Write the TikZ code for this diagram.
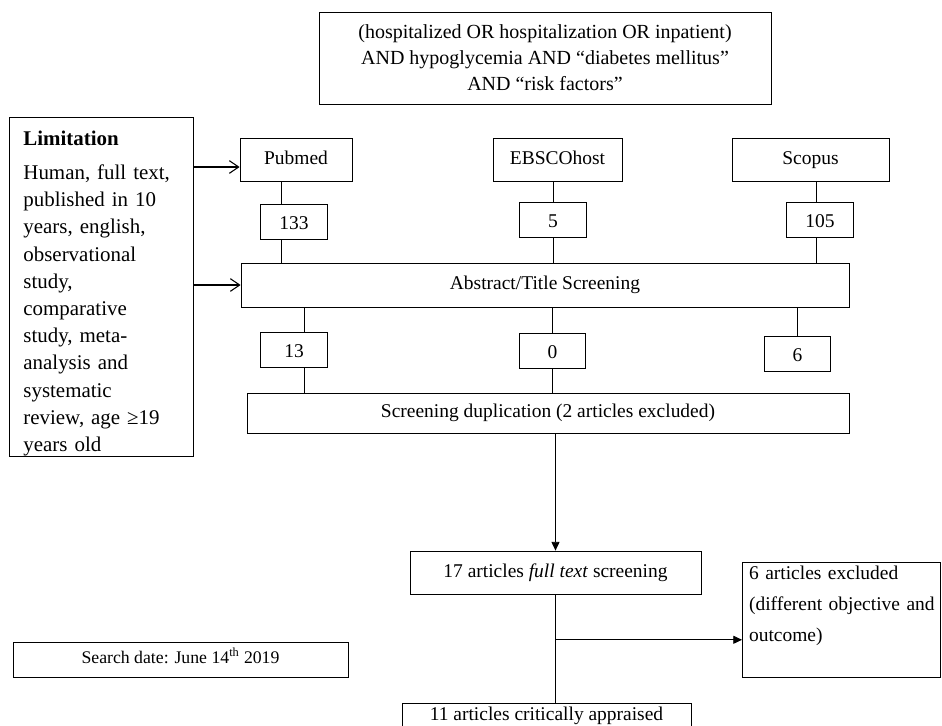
\documentclass[tikz,border=0pt]{standalone}
\usepackage{fontspec}
\setmainfont{Liberation Serif}
\usepackage{tikz}
\usetikzlibrary{arrows.meta, calc}
\newcommand{\mainsize}{\fontsize{14.6}{19.5}\selectfont}
\newcommand{\querysize}{\fontsize{15}{19.5}\selectfont}
\newcommand{\limsize}{\fontsize{15.7}{20.4}\selectfont}
\newcommand{\datesize}{\fontsize{13.3}{16}\selectfont}
\newcommand{\exclsize}{\fontsize{14.6}{23.2}\selectfont}
\tikzset{
  box/.style={draw, line width=0.6pt, inner sep=0pt, align=center, font=\mainsize},
  oneline/.style={box, text height=10.5pt, text depth=3.5pt},
  src/.style={oneline, minimum height=32.25pt},
  count/.style={oneline, text height=12.5pt, text depth=1.1pt, minimum width=50pt, minimum height=26.25pt},
  stage/.style={oneline, minimum height=32.25pt},
  note/.style={box, align=left, anchor=north west},
  flow/.style={-{Triangle[length=6.5pt, width=6pt]}, line width=0.6pt},
  feed/.style={-{Straight Barb[length=7pt, width=9.5pt]}, line width=0.8pt},
  link/.style={line width=0.6pt},
}

\begin{document}
\begin{tikzpicture}[x=0.75pt, y=-0.75pt]
  \useasboundingbox (0,0) rectangle (942,725);
  \node[box, font=\querysize, minimum width=339pt, minimum height=69pt] (query) at (545,58) {(hospitalized OR hospitalization OR inpatient)\\AND hypoglycemia AND “diabetes mellitus”\\AND “risk factors”};
  \node[note, font=\limsize, text width=117pt, inner xsep=10.5pt, minimum width=138pt] (limit) at (9,117) {\rule{0pt}{21pt}\textbf{Limitation}\\[5.1pt]Human, full text,\\published in 10\\years, english,\\observational\\study,\\comparative\\study, meta-\\analysis and\\systematic\\review, age ≥19\\years old};
  \node[src, minimum width=84pt] (pub) at (296,159.5) {Pubmed};
  \node[src, minimum width=96.75pt] (ebsco) at (557.5,159.5) {EBSCOhost};
  \node[src, minimum width=117.75pt] (scopus) at (810.5,159.5) {Scopus};
  \node[count] (n133) at (294,221.5) {133};
  \node[count] (n5) at (553,219.5) {5};
  \node[count] (n105) at (820,219.5) {105};
  \node[stage, minimum width=456pt, minimum height=33pt] (abs) at (545,285) {Abstract/Title Screening};
  \node[count] (n13) at (294,349.5) {13};
  \node[count] (n0) at (552.5,350.5) {0};
  \node[count] (n6) at (797.5,353.5) {6};
  \node[stage, minimum width=451.5pt, minimum height=30pt] (dup) at (548,413) {Screening duplication (2 articles excluded)};
  \node[stage, minimum width=218.25pt] (full) at (555.5,572.5) {17 articles \textit{full text} screening};
  \node[note, font=\exclsize, text width=138.5pt, inner xsep=5pt, minimum width=148.5pt] (excl) at (742,562) {\rule{0pt}{12.75pt}6 articles excluded\\\mbox{(different objective and}\\outcome)\\\rule[-3.9pt]{0pt}{0pt}};
  \node[oneline, font=\datesize, text height=9.6pt, text depth=3.2pt, minimum width=251.25pt, minimum height=26.25pt] (date) at (180.5,659.5) {Search date: June 14\textsuperscript{th} 2019};
  \node[stage, anchor=north, minimum width=216.75pt, minimum height=18pt] (appr) at (546.5,703) {11 articles critically appraised};
  \coordinate (pubin) at ($(pub.west)+(0,7.5)$);
  \draw[feed] (pubin -| limit.east) -- (pubin);
  \draw[feed] (abs.west -| limit.east) -- (abs.west);
  \foreach \a/\b/\s in {pub/n133/-13, ebsco/n5/0, scopus/n105/-4} {
    \draw[link] ($(\b.north)+(\s,0)$) -- ($(\b.north |- \a.south)+(\s,0)$);
    \draw[link] ($(\b.south)+(\s,0)$) -- ($(\b.south |- abs.north)+(\s,0)$);
  }
  \foreach \b/\s in {n13/10, n0/0, n6/0} \draw[link] ($(\b.north)+(\s,0)$) -- ($(\b.north |- abs.south)+(\s,0)$);
  \foreach \b/\s in {n13/10, n0/0} \draw[link] ($(\b.south)+(\s,0)$) -- ($(\b.south |- dup.north)+(\s,0)$);
  \draw[flow] (dup.south -| full.north) -- (full.north);
  \draw[link] (full.south) -- (full.south |- appr.north);
  \coordinate (split) at ($(full.south)!0.418!(full.south |- appr.north)$);
  \draw[flow] (split) -- (split -| excl.west);
\end{tikzpicture}
\end{document}
